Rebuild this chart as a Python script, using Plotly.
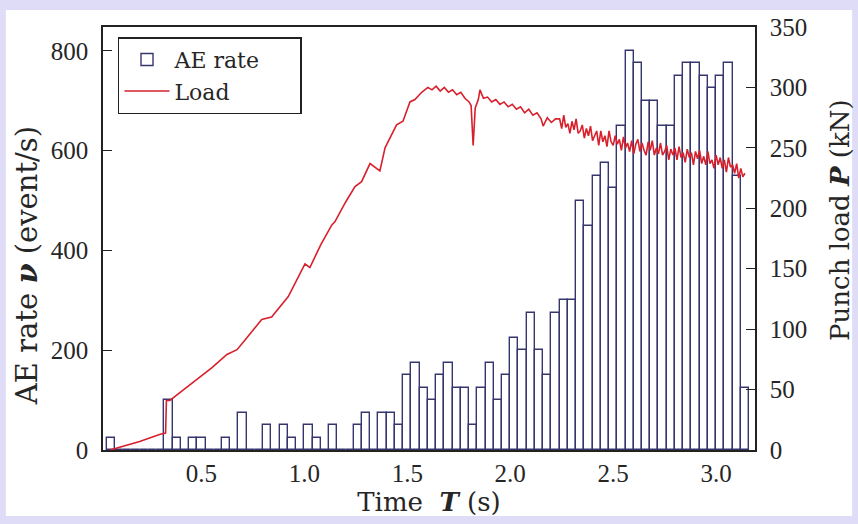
import plotly.graph_objects as go

# ---- AE rate histogram (0.04 s bins, bin k covers [0.04k, 0.04k+0.04]) ----
bin_width = 0.04
bin_index = list(range(1, 79))
ae_rate = [25, 0, 0, 0, 0, 0, 0, 100, 25, 0,
           25, 25, 0, 0, 25, 0, 75, 0, 0, 50,
           0, 50, 25, 0, 50, 25, 0, 50, 0, 0,
           50, 75, 0, 75, 75, 50, 150, 175, 125, 100,
           150, 175, 125, 125, 50, 125, 175, 100, 150, 225,
           200, 275, 200, 150, 275, 300, 300, 500, 450, 550,
           575, 525, 650, 800, 775, 700, 700, 650, 650, 750,
           775, 775, 750, 725, 750, 775, 550, 125]
bin_center = [bin_width * k + bin_width / 2 for k in bin_index]

# ---- Punch load curve ----
load_time = [0.056, 0.10, 0.20, 0.30, 0.326, 0.330, 0.347, 0.40, 0.493, 0.55,
             0.624, 0.673, 0.712, 0.793, 0.841, 0.922, 1.003, 1.027, 1.08, 1.133,
             1.149, 1.20, 1.246, 1.278, 1.319, 1.367, 1.392, 1.448, 1.479, 1.513,
             1.537, 1.57, 1.60, 1.62, 1.64, 1.66, 1.68, 1.70, 1.72, 1.74,
             1.76, 1.78, 1.80, 1.81, 1.82, 1.83, 1.845, 1.853, 1.87, 1.89,
             1.91, 1.93, 1.95, 1.97, 1.99, 2.01, 2.03, 2.05, 2.07, 2.09,
             2.11, 2.13, 2.15, 2.16, 2.18, 2.20, 2.22,
             2.24, 2.25, 2.26, 2.27, 2.28, 2.29, 2.30, 2.31, 2.32, 2.33,
             2.34, 2.35, 2.36, 2.37, 2.38, 2.39, 2.40, 2.41, 2.42, 2.43,
             2.44, 2.45, 2.46, 2.47, 2.48, 2.49, 2.50, 2.51, 2.52, 2.53,
             2.54, 2.55, 2.56, 2.57, 2.58, 2.59, 2.60, 2.61, 2.62, 2.63,
             2.64, 2.65, 2.66, 2.67, 2.68, 2.69, 2.70, 2.71, 2.72, 2.73,
             2.74, 2.75, 2.76, 2.77, 2.78, 2.79, 2.80, 2.81, 2.82, 2.83,
             2.84, 2.85, 2.86, 2.87, 2.88, 2.89, 2.90, 2.91, 2.92, 2.93,
             2.94, 2.95, 2.96, 2.97, 2.98, 2.99, 3.00, 3.01, 3.02, 3.03,
             3.04, 3.05, 3.06, 3.07, 3.08, 3.09, 3.10, 3.11, 3.12, 3.13,
             3.14]
load_kn = [0, 2, 7, 13, 14, 41, 41, 48, 60, 68,
           79, 83, 91, 108, 110, 127, 154, 151, 170, 186,
           189, 205, 218, 222, 237, 231, 250, 269, 272, 288,
           290, 296, 300, 298, 301, 297, 300, 296, 298, 294,
           296, 291, 288, 285, 252, 283, 290, 298, 291, 292,
           288, 290, 286, 288, 284, 286, 282, 284, 279, 282,
           277, 279, 274, 268, 275, 271, 274,
           274, 266, 277, 267, 270, 262, 272, 265, 274, 262,
           264, 269, 258, 266, 260, 268, 256, 260, 264, 252,
           264, 255, 260, 251, 264, 255, 252, 260, 253, 257,
           248, 259, 250, 254, 247, 256, 245, 253, 257, 247,
           254, 248, 244, 255, 248, 256, 244, 250, 245, 254,
           244, 247, 252, 240, 249, 244, 250, 240, 251, 242,
           246, 238, 249, 242, 246, 236, 247, 241, 248, 237,
           243, 236, 247, 237, 240, 233, 244, 236, 242, 233,
           240, 230, 242, 234, 236, 229, 237, 225, 233, 226,
           229]

left_ticks = [0, 200, 400, 600, 800]
right_ticks = [0, 50, 100, 150, 200, 250, 300, 350]
x_ticks = [0.5, 1.0, 1.5, 2.0, 2.5, 3.0]
x_tick_text = ["0.5", "1.0", "1.5", "2.0", "2.5", "3.0"]

TICKFONT = "Liberation Serif"
TITLEFONT = "DejaVu Serif"
TXT = "#262626"
BG = "#dedcf6"
PAD = "\u00a0" * 5

fig = go.Figure()
fig.add_trace(go.Bar(
    x=bin_center, y=ae_rate, width=bin_width, name="AE rate" + PAD,
    marker=dict(color="white", line=dict(color="#36366f", width=1.4)),
    yaxis="y",
))
fig.add_trace(go.Scatter(
    x=load_time, y=load_kn, mode="lines", name="Load",
    line=dict(color="#d8202c", width=1.6), yaxis="y2",
))

fig.update_layout(
    width=858, height=524,
    margin=dict(l=103, r=103, t=27, b=74, autoexpand=False),
    paper_bgcolor=BG,
    plot_bgcolor="white",
    bargap=0,
    font=dict(family=TICKFONT, size=25, color=TXT),
    showlegend=True,
    legend=dict(
        x=0.023, y=0.976, xanchor="left", yanchor="top",
        bgcolor="white", bordercolor="#222", borderwidth=1.5,
        font=dict(family=TITLEFONT, size=22, color=TXT),
        tracegroupgap=0, itemwidth=45,
    ),
    xaxis=dict(
        range=[0.022, 3.189], tickvals=x_ticks, ticktext=x_tick_text,
        ticks="", ticklen=0, showline=True, linecolor="#222", linewidth=1.5, mirror=True,
        showgrid=False, zeroline=False,
        title=dict(text="Time  <b><i>T</i></b> (s)",
                   font=dict(family=TITLEFONT, size=26), standoff=4),
        tickfont=dict(size=25),
    ),
    yaxis=dict(
        range=[0, 848], tickvals=left_ticks, ticks="inside", ticklen=9,
        tickcolor="#222", showline=True, linecolor="#222", linewidth=1.5,
        showgrid=False, zeroline=False, ticklabelstandoff=8,
        tickfont=dict(size=25),
    ),
    yaxis2=dict(
        range=[0, 350], tickvals=right_ticks, ticks="inside", ticklen=9,
        tickcolor="#222", showline=True, linecolor="#222", linewidth=1.5,
        overlaying="y", side="right", showgrid=False, zeroline=False,
        ticklabelstandoff=8,
        tickfont=dict(size=25),
    ),
    annotations=[
        dict(text="AE rate <b><i>ν</i></b> (event/s)", textangle=-90,
             xref="paper", yref="paper", x=-0.1166, y=0.437,
             xanchor="center", yanchor="middle", showarrow=False,
             font=dict(family=TITLEFONT, size=29, color=TXT)),
        dict(text="Punch load <b><i>P</i></b> (kN)", textangle=-90,
             xref="paper", yref="paper", x=1.1304, y=0.544,
             xanchor="center", yanchor="middle", showarrow=False,
             font=dict(family=TITLEFONT, size=26, color=TXT)),
    ],
    shapes=[dict(
        type="rect", xref="paper", yref="paper",
        x0=-0.149, x1=1.149, y0=-0.156, y1=1.040,
        fillcolor="white", line=dict(width=0), layer="below",
    )],
)

fig.write_html(
    "out.html",
    config={"displayModeBar": False},
    post_script="document.body.style.margin='0';document.body.style.background='" + BG + "';",
)
